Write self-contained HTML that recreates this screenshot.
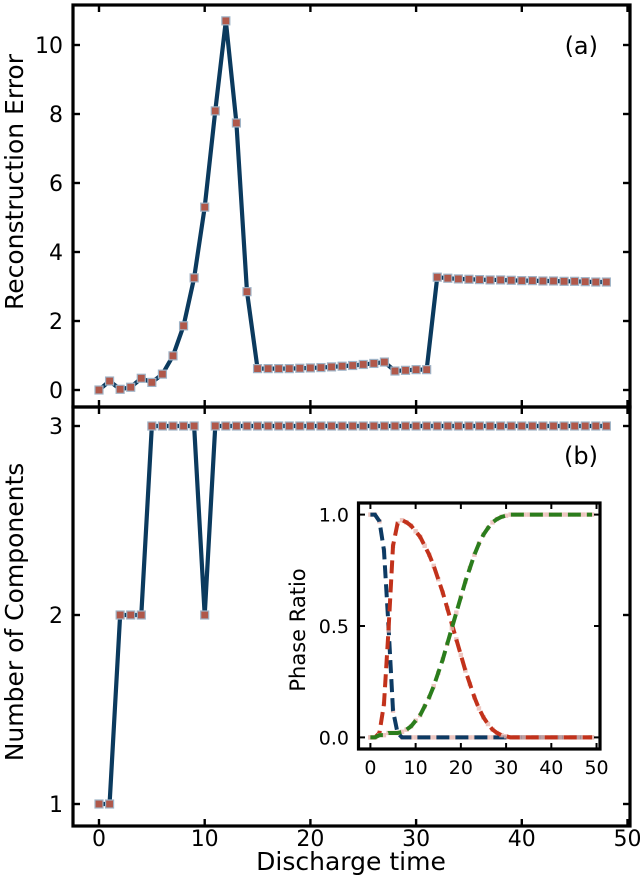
<!DOCTYPE html>
<html><head><meta charset="utf-8"><style>
html,body{margin:0;padding:0;background:#fff;}
svg{display:block;font-family:"DejaVu Sans","Liberation Sans",sans-serif;}
</style></head><body>
<svg id="chart" width="640" height="880" xmlns="http://www.w3.org/2000/svg"></svg>
<script>
const timeSteps = Array.from({length:49},(_,i)=>i);
const reconError = [0,0.26,0.02,0.08,0.34,0.22,0.46,0.99,1.86,3.25,5.3,8.09,10.7,7.74,2.85,0.62,0.62,0.62,0.62,0.63,0.64,0.65,0.67,0.69,0.71,0.74,0.77,0.81,0.55,0.57,0.59,0.59,3.27,3.24,3.22,3.21,3.2,3.19,3.19,3.18,3.17,3.17,3.16,3.16,3.15,3.15,3.14,3.13,3.13];
const numComponents = [1,1,2,2,2,3,3,3,3,3,2,3,3,3,3,3,3,3,3,3,3,3,3,3,3,3,3,3,3,3,3,3,3,3,3,3,3,3,3,3,3,3,3,3,3,3,3,3,3];
const insetX = Array.from({length:50},(_,i)=>i);
const phaseBlue = [1,1,0.97,0.84,0.5,0.12,0.02,0,0,0,0,0,0,0,0,0,0,0,0,0,0,0,0,0,0,0,0,0,0,0,0,0,0,0,0,0,0,0,0,0,0,0,0,0,0,0,0,0,0,0];
const phaseRed = [0,0,0.02,0.15,0.48,0.86,0.96,0.975,0.965,0.95,0.925,0.9,0.86,0.82,0.77,0.71,0.65,0.58,0.51,0.44,0.37,0.3,0.24,0.18,0.13,0.09,0.06,0.035,0.02,0.01,0.005,0,0,0,0,0,0,0,0,0,0,0,0,0,0,0,0,0,0,0];
const phaseGreen = [0,0,0.01,0.01,0.02,0.02,0.02,0.025,0.035,0.05,0.075,0.1,0.14,0.18,0.23,0.29,0.35,0.42,0.49,0.56,0.63,0.7,0.76,0.82,0.87,0.91,0.94,0.965,0.98,0.99,0.995,1,1,1,1,1,1,1,1,1,1,1,1,1,1,1,1,1,1,1];
const xTicks = [0,10,20,30,40,50];
const yTicksA = [0,2,4,6,8,10];
const yTicksB = [1,2,3];
const insetYTicks = [0,0.5,1.0];
const insetYLabels = ["0.0","0.5","1.0"];

const NS="http://www.w3.org/2000/svg";
const svg=document.getElementById('chart');
function mk(tag,attrs,parent){const e=document.createElementNS(NS,tag);for(const k in attrs)e.setAttribute(k,attrs[k]);(parent||svg).appendChild(e);return e;}

const X=v=>99+v*10.57;
const YA=v=>390-v*34.5;
const YB=v=>615-(v-2)*189;
const IX=v=>370.4+v*4.523;
const IY=v=>737.4-v*222.8;

function series(xs,ys,fx,fy,name,pname){
  const g=mk('g',{});
  
  
  const pts=xs.map((x,i)=>fx(x)+','+fy(ys[i])).join(' ');
  const pl=mk('polyline',{points:pts,fill:'none',stroke:'#0b3a5e','stroke-width':4.2,'stroke-linejoin':'round'},g);
  
  
  xs.forEach((x,i)=>{
    const r=mk('rect',{x:fx(x)-4,y:fy(ys[i])-4,width:8,height:8,fill:'#b0584a',stroke:'#9fb3c6','stroke-width':1.2},g);
    
    
  });
}

series(timeSteps,reconError,X,YA,'reconstruction-error-series','error-point');
series(timeSteps,numComponents,X,YB,'components-series','component-point');

const fa=mk('rect',{x:73,y:5,width:557,height:402,fill:'none',stroke:'#000','stroke-width':3.2});

const fb=mk('rect',{x:73,y:407,width:557,height:419,fill:'none',stroke:'#000','stroke-width':3.2});


xTicks.forEach(t=>{
  const x=X(t);
  [[5,12],[407,400],[407,414],[826,819]].forEach(([a,b])=>{
    const l=mk('line',{x1:x,x2:x,y1:a,y2:b,stroke:'#000','stroke-width':2.4});
    
  });
  const tx=mk('text',{x:x,y:846,'text-anchor':'middle','font-size':22,fill:'#000'});
  tx.textContent=t;
  
});
yTicksA.forEach(t=>{
  const y=YA(t);
  [[73,80],[630,623]].forEach(([a,b])=>{const l=mk('line',{x1:a,x2:b,y1:y,y2:y,stroke:'#000','stroke-width':2.4});});
  const tx=mk('text',{x:63,y:y+8,'text-anchor':'end','font-size':22});
  tx.textContent=t;
});
yTicksB.forEach(t=>{
  const y=YB(t);
  [[73,80],[630,623]].forEach(([a,b])=>{const l=mk('line',{x1:a,x2:b,y1:y,y2:y,stroke:'#000','stroke-width':2.4});});
  const tx=mk('text',{x:63,y:y+8,'text-anchor':'end','font-size':22});
  tx.textContent=t;
});

let t;
t=mk('text',{x:0,y:0,transform:'translate(23,182) rotate(-90)','text-anchor':'middle','font-size':25});t.textContent='Reconstruction Error';

t=mk('text',{x:0,y:0,transform:'translate(23,612) rotate(-90)','text-anchor':'middle','font-size':25});t.textContent='Number of Components';

t=mk('text',{x:351,y:870,'text-anchor':'middle','font-size':25});t.textContent='Discharge time';

t=mk('text',{x:598,y:54,'text-anchor':'end','font-size':24});t.textContent='(a)';

t=mk('text',{x:598,y:464,'text-anchor':'end','font-size':24});t.textContent='(b)';


const ib=mk('rect',{x:358.5,y:503,width:241.5,height:246,fill:'#fff',stroke:'#000','stroke-width':3.2});

function dashed(ys,color,name){
  const g=mk('g',{});
  
  insetX.forEach((x,i)=>{const c=mk('rect',{x:IX(x)-2.2,y:IY(ys[i])-2.2,width:4.4,height:4.4,fill:'#e8b8b0',opacity:0.8},g);
    });
  const pl=mk('polyline',{points:insetX.map((x,i)=>IX(x)+','+IY(ys[i])).join(' '),fill:'none',stroke:color,'stroke-width':4,'stroke-dasharray':'13 6'},g);
  
}
dashed(phaseBlue,'#0d3a63','phase-blue-series');
dashed(phaseRed,'#c2321b','phase-red-series');
dashed(phaseGreen,'#2b7d1c','phase-green-series');
xTicks.forEach(v=>{
  const x=IX(v);
  [[749,743],[503,509]].forEach(([a,b])=>{const l=mk('line',{x1:x,x2:x,y1:a,y2:b,stroke:'#000','stroke-width':2});});
  const tx=mk('text',{x:x,y:774,'text-anchor':'middle','font-size':19});tx.textContent=v;
  
});
insetYTicks.forEach((v,i)=>{
  const y=IY(v);
  [[358.5,365],[600,594]].forEach(([a,b])=>{const l=mk('line',{x1:a,x2:b,y1:y,y2:y,stroke:'#000','stroke-width':2});});
  const tx=mk('text',{x:349,y:y+7,'text-anchor':'end','font-size':19});tx.textContent=insetYLabels[i];
  
});
t=mk('text',{x:0,y:0,transform:'translate(305,630) rotate(-90)','text-anchor':'middle','font-size':21});t.textContent='Phase Ratio';

</script>
</body></html>
